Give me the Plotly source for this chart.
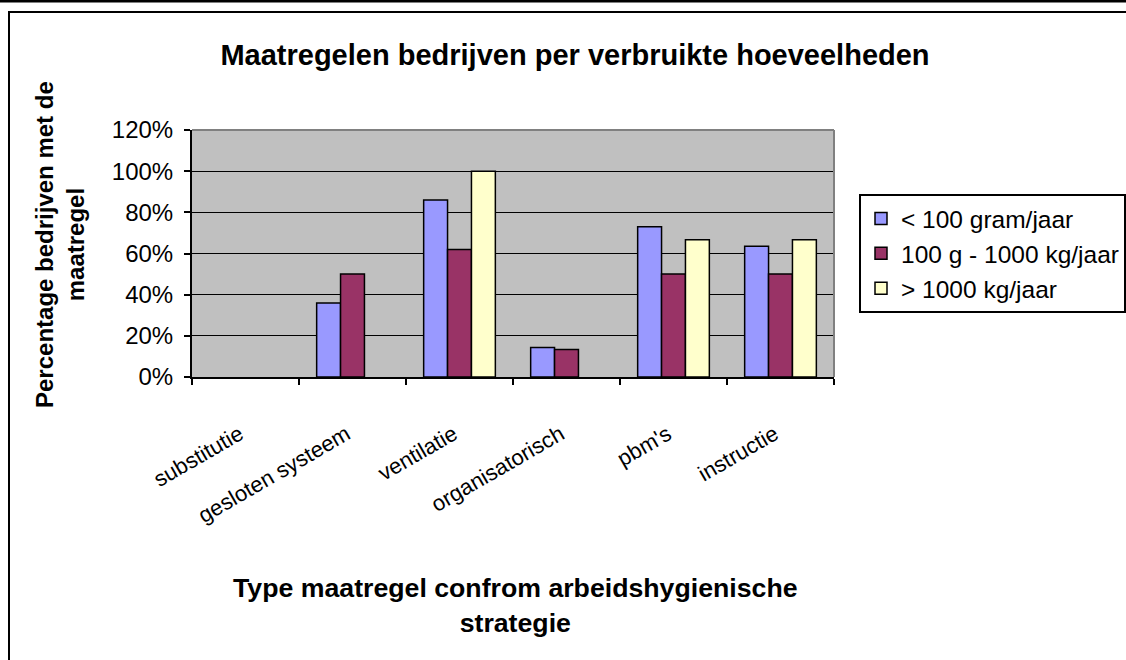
import plotly.graph_objects as go

categories = ["substitutie", "gesloten systeem", "ventilatie", "organisatorisch", "pbm's", "instructie"]
series_names = ["< 100 gram/jaar", "100 g - 1000 kg/jaar", "> 1000 kg/jaar"]
small = [0.0, 0.36, 0.86, 0.143, 0.73, 0.635]
medium = [0.0, 0.50, 0.62, 0.133, 0.50, 0.50]
large = [0.0, 0.0, 1.00, 0.0, 0.667, 0.667]
colors = ["#9999FF", "#993366", "#FFFFCC"]
ytick_vals = [0, 0.2, 0.4, 0.6, 0.8, 1.0, 1.2]
ytick_text = ["0%", "20%", "40%", "60%", "80%", "100%", "120%"]

FONT = "Arial, Liberation Sans, sans-serif"

fig = go.Figure()
for name, vals, col in zip(series_names, [small, medium, large], colors):
    fig.add_trace(go.Bar(
        x=categories, y=[v if v > 0 else None for v in vals], name=name,
        marker=dict(color=col, line=dict(color="black", width=1.5)),
    ))

L, R, T, B = 192, 834, 130, 377
W, H = 1126, 660
pw, ph = R - L, B - T

def px(x):
    return (x - L) / pw

def py(y):
    return (B - y) / ph

fig.update_layout(
    width=W, height=H,
    margin=dict(l=L, r=W - R, t=T, b=H - B, pad=0, autoexpand=False),
    paper_bgcolor="white",
    plot_bgcolor="#C0C0C0",
    font=dict(family=FONT, color="black"),
    barmode="group",
    bargap=0.33,
    bargroupgap=0,
    showlegend=True,
    title=dict(
        text="<b>Maatregelen bedrijven per verbruikte hoeveelheden</b>",
        x=575 / W, xref="container", xanchor="center",
        y=1 - 55 / H, yref="container", yanchor="middle",
        font=dict(size=29, family=FONT, color="black"),
    ),
    legend=dict(
        x=px(859), y=py(194), xanchor="left", yanchor="top",
        bordercolor="black", borderwidth=2, bgcolor="white",
        font=dict(size=24.5, family=FONT, color="black"),
    ),
)

fig.update_xaxes(
    showline=True, linecolor="black", linewidth=2,
    ticks="outside", ticklen=6, tickwidth=2, tickcolor="black",
    tickson="boundaries",
    tickangle=-30,
    tickfont=dict(size=22, family=FONT, color="black"),
    ticklabelstandoff=34,
    ticklabelshift=-6,
    showgrid=False,
)
fig.update_yaxes(
    range=[0, 1.2],
    tickvals=ytick_vals, ticktext=ytick_text,
    showline=True, linecolor="black", linewidth=2,
    ticks="outside", ticklen=6, tickwidth=2, tickcolor="black",
    tickfont=dict(size=24, family=FONT, color="black"),
    ticklabelstandoff=6,
    showgrid=True, gridcolor="black", gridwidth=1,
    zeroline=False,
)

# axis titles
fig.add_annotation(
    text="<b>Percentage bedrijven met de<br>maatregel</b>",
    xref="paper", yref="paper", x=px(60), y=py(245),
    xanchor="center", yanchor="middle", textangle=-90, showarrow=False,
    font=dict(size=24, family=FONT, color="black"),
)
fig.add_annotation(
    text="<b>Type maatregel confrom arbeidshygienische<br>strategie</b>",
    xref="paper", yref="paper", x=px(515), y=py(605),
    xanchor="center", yanchor="middle", showarrow=False,
    font=dict(size=26.7, family=FONT, color="black"),
)

# plot border (gray top/right)
fig.add_shape(type="line", xref="paper", yref="paper", x0=0, x1=1, y0=1, y1=1,
              line=dict(color="#808080", width=2))
fig.add_shape(type="line", xref="paper", yref="paper", x0=1, x1=1, y0=0, y1=1,
              line=dict(color="#808080", width=2))

# outer frames
fig.add_shape(type="line", xref="paper", yref="paper", x0=px(-5), x1=px(1135),
              y0=py(1), y1=py(1), line=dict(color="black", width=3))
fig.add_shape(type="rect", xref="paper", yref="paper", x0=px(9), x1=px(1140),
              y0=py(12), y1=py(670), line=dict(color="black", width=2))

fig.write_html(
    "out.html",
    config={"displayModeBar": False},
    post_script="document.body.style.margin='0';document.body.style.overflow='hidden';",
)
